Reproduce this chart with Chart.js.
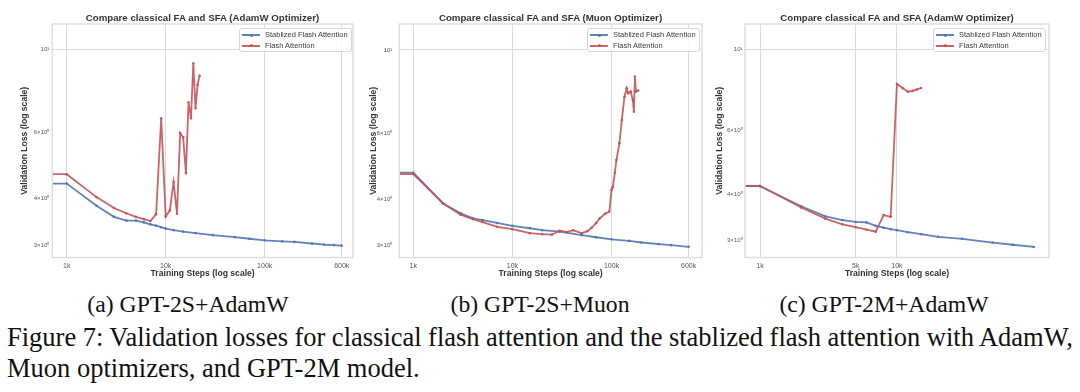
<!DOCTYPE html>
<html>
<head>
<meta charset="utf-8">
<script src="https://cdn.jsdelivr.net/npm/chart.js@4.4.1/dist/chart.umd.min.js"></script>
<style>
  html, body { margin: 0; padding: 0; background: #fff; }
  body { width: 1080px; height: 392px; position: relative; overflow: hidden; font-family: "Liberation Sans", Arial, sans-serif; }
  canvas { position: absolute; top: 0; }
  .ptitle { position: absolute; top: 12px; height: 12px; line-height: 12px; font-size: 9.7px; font-weight: bold; color: #333; text-align: center; white-space: nowrap; }
  .legend { position: absolute; top: 28px; width: 111px; height: 22px; border: 1px solid #d6d6d6; border-radius: 3px; background: rgba(255,255,255,0.85); font-size: 7.5px; color: #3a3a3a; }
  .legend .row { position: absolute; left: 0; height: 10px; line-height: 10px; white-space: nowrap; }
  .legend .sym { position: absolute; left: 2px; top: 4.3px; width: 18px; height: 1.7px; }
  .legend .dot { position: absolute; left: 7.5px; top: -0.8px; width: 3.2px; height: 3.2px; border-radius: 50%; }
  .legend .txt { position: absolute; left: 25px; top: 0; }
  .cap { position: absolute; font-family: "Liberation Serif", "Times New Roman", serif; color: #111; white-space: nowrap; }
  .sub { width: 300px; text-align: center; font-size: 23.7px; line-height: 23.7px; top: 292.5px; }
  .fig { left: 7px; font-size: 26.5px; line-height: 26.5px; }
</style>
</head>
<body>
<canvas id="chartA" width="357" height="282" style="left:0px"></canvas>
<canvas id="chartB" width="346" height="282" style="left:360px"></canvas>
<canvas id="chartC" width="348" height="282" style="left:705px"></canvas>

<div class="ptitle" style="left:52px;width:301px">Compare classical FA and SFA (AdamW Optimizer)</div>
<div class="ptitle" style="left:399px;width:303px">Compare classical FA and SFA (Muon Optimizer)</div>
<div class="ptitle" style="left:745px;width:304px">Compare classical FA and SFA (AdamW Optimizer)</div>

<div id="legendA" class="legend" style="left:239px"></div>
<div id="legendB" class="legend" style="left:587px"></div>
<div id="legendC" class="legend" style="left:933px"></div>

<div class="cap sub" style="left:38px">(a) GPT-2S+AdamW</div>
<div class="cap sub" style="left:390px">(b) GPT-2S+Muon</div>
<div class="cap sub" style="left:734px">(c) GPT-2M+AdamW</div>
<div id="figLine1" class="cap fig" style="top:323.5px">Figure 7: Validation losses for classical flash attention and the stablized flash attention with AdamW,</div>
<div class="cap fig" style="top:354.5px">Muon optimizers, and GPT-2M model.</div>

<script>
// Series names
const seriesNames = ["Stablized Flash Attention", "Flash Attention"];

// (a) GPT-2S + AdamW
const stepsA_sfa = [500, 1000, 2000, 3000, 4000, 5000, 6000, 7000, 8000, 9000, 10000, 12000, 15000, 20000, 30000, 50000, 70000, 100000, 150000, 200000, 300000, 400000, 500000, 600000];
const lossA_sfa  = [4.39, 4.39, 3.83, 3.58, 3.50, 3.50, 3.46, 3.42, 3.39, 3.36, 3.33, 3.30, 3.27, 3.24, 3.20, 3.16, 3.13, 3.10, 3.08, 3.07, 3.04, 3.02, 3.01, 3.00];
const stepsA_fa  = [500, 1000, 2000, 3000, 4000, 5000, 6000, 7000, 8000, 9000, 10000, 11000, 12000, 13000, 14000, 15000, 16000, 17000, 18000, 19000, 20000, 21000, 22000];
const lossA_fa   = [4.65, 4.65, 4.04, 3.78, 3.66, 3.58, 3.53, 3.49, 3.64, 6.55, 3.59, 3.72, 4.43, 3.65, 5.98, 5.83, 4.68, 7.23, 6.55, 9.18, 6.97, 8.04, 8.51];

// (b) GPT-2S + Muon
const stepsB_sfa = [500, 1000, 2000, 3000, 4000, 5000, 7000, 10000, 15000, 20000, 30000, 50000, 70000, 100000, 150000, 200000, 300000, 400000, 600000];
const lossB_sfa  = [4.70, 4.70, 3.89, 3.66, 3.55, 3.51, 3.45, 3.39, 3.34, 3.30, 3.27, 3.20, 3.16, 3.12, 3.09, 3.06, 3.03, 3.01, 2.98];
const stepsB_fa  = [500, 1000, 2000, 3000, 4000, 5000, 7000, 10000, 15000, 20000, 25000, 30000, 35000, 41000, 50000, 57000, 63000, 70000, 76000, 86000, 95000, 100000, 103000, 108000, 112000, 120000, 127000, 135000, 142000, 147000, 156000, 164000, 168000, 172000, 176000, 186000];
const lossB_fa   = [4.66, 4.66, 3.89, 3.63, 3.53, 3.47, 3.37, 3.32, 3.24, 3.22, 3.21, 3.29, 3.26, 3.30, 3.24, 3.28, 3.35, 3.45, 3.55, 3.65, 3.70, 4.23, 4.30, 4.70, 5.08, 5.63, 6.50, 7.50, 7.90, 7.66, 7.74, 7.35, 6.84, 8.49, 7.74, 7.79];

// (c) GPT-2M + AdamW
const stepsC_sfa = [500, 1000, 2000, 3000, 4000, 5000, 6000, 7000, 8000, 9000, 10000, 12000, 15000, 20000, 30000, 50000, 70000, 100000];
const lossC_sfa  = [4.21, 4.21, 3.71, 3.48, 3.40, 3.36, 3.35, 3.28, 3.24, 3.21, 3.19, 3.15, 3.11, 3.06, 3.02, 2.95, 2.91, 2.87];
const stepsC_fa  = [500, 1000, 2000, 3000, 4000, 5000, 6000, 7000, 8000, 9000, 10000, 11000, 12000, 13000, 14000, 15000];
const lossC_fa   = [4.22, 4.22, 3.68, 3.43, 3.31, 3.25, 3.20, 3.16, 3.51, 3.47, 8.02, 7.82, 7.64, 7.68, 7.75, 7.82];

// Tick values and labels
const xTicksAB = [1000, 10000, 100000, 600000];
const xLabelsAB = ["1k", "10k", "100k", "600k"];
const xTicksC = [1000, 5000, 10000];
const xLabelsC = ["1k", "5k", "10k"];
const yTicks = [3, 4, 6, 10];
const yLabels = ["3×10⁰", "4×10⁰", "6×10⁰", "10¹"];

const BLUE = "rgba(76,114,176,0.88)";
const RED = "rgba(196,78,82,0.88)";
const GRID = "#dadada";
const FONT = "'Liberation Sans', Arial, sans-serif";

const pairs = (xs, ys) => xs.map((x, i) => ({ x: x, y: ys[i] }));

// light grey box round the plot area
const framePlugin = {
  id: "frame",
  afterDraw(chart) {
    const { ctx, chartArea: a } = chart;
    ctx.save();
    ctx.strokeStyle = "#dcdcdc";
    ctx.lineWidth = 1.4;
    ctx.strokeRect(a.left, a.top, a.right - a.left, a.bottom - a.top);
    ctx.restore();
  }
};

function makeChart(id, o) {
  return new Chart(document.getElementById(id), {
    type: "line",
    data: {
      datasets: [
        { label: seriesNames[0], data: pairs(o.sfaSteps, o.sfaLoss), borderColor: BLUE, backgroundColor: BLUE, pointBackgroundColor: BLUE, order: 1 },
        { label: seriesNames[1], data: pairs(o.faSteps, o.faLoss), borderColor: RED, backgroundColor: RED, pointBackgroundColor: RED, order: 0 }
      ]
    },
    options: {
      responsive: false,
      animation: false,
      layout: { padding: { top: 24, right: 4, left: 0, bottom: 0 } },
      plugins: { legend: { display: false }, tooltip: { enabled: false } },
      elements: {
        line: { borderWidth: 1.8, tension: 0 },
        point: { radius: 1.3, borderWidth: 0 }
      },
      scales: {
        x: {
          type: "logarithmic",
          min: o.xMin, max: o.xMax,
          afterBuildTicks: s => { s.ticks = o.xTicks.map(v => ({ value: v })); },
          afterFit: s => { s.height = 24.5; },
          ticks: {
            autoSkip: false, maxRotation: 0, padding: 4, color: "#555",
            font: { family: FONT, size: 7 },
            callback: v => o.xLabels[o.xTicks.indexOf(v)]
          },
          grid: { color: GRID, lineWidth: 1, drawTicks: false },
          border: { display: false },
          title: {
            display: true, text: "Training Steps (log scale)", color: "#333",
            font: { family: FONT, size: 8.6, weight: "bold" },
            padding: { top: 0, bottom: 3.5 }
          }
        },
        y: {
          type: "logarithmic",
          min: o.yMin, max: o.yMax,
          afterBuildTicks: s => { s.ticks = yTicks.map(v => ({ value: v })); },
          afterFit: s => { s.width = o.yAxisW; },
          ticks: {
            padding: o.yPad, color: "#555",
            font: { family: FONT, size: 6 },
            callback: v => yLabels[yTicks.indexOf(v)]
          },
          grid: {
            lineWidth: 1, drawTicks: false,
            color: c => (c.tick && c.tick.value === 10 ? GRID : "rgba(0,0,0,0)")
          },
          border: { display: false },
          title: {
            display: true, text: "Validation Loss (log scale)", color: "#333",
            font: { family: FONT, size: 8.6, weight: "bold" },
            padding: { top: o.yTitlePad, bottom: 0 }
          }
        }
      }
    },
    plugins: [framePlugin]
  });
}

makeChart("chartA", {
  sfaSteps: stepsA_sfa, sfaLoss: lossA_sfa, faSteps: stepsA_fa, faLoss: lossA_fa,
  xMin: 715, xMax: 780000, yMin: 2.79, yMax: 11.68,
  xTicks: xTicksAB, xLabels: xLabelsAB, yAxisW: 52.3, yPad: 3, yTitlePad: 19.8
});
makeChart("chartB", {
  sfaSteps: stepsB_sfa, sfaLoss: lossB_sfa, faSteps: stepsB_fa, faLoss: lossB_fa,
  xMin: 722, xMax: 818000, yMin: 2.79, yMax: 11.73,
  xTicks: xTicksAB, xLabels: xLabelsAB, yAxisW: 39.3, yPad: 7, yTitlePad: 8.1
});
makeChart("chartC", {
  sfaSteps: stepsC_sfa, sfaLoss: lossC_sfa, faSteps: stepsC_fa, faLoss: lossC_fa,
  xMin: 777, xMax: 129000, yMin: 2.685, yMax: 11.71,
  xTicks: xTicksC, xLabels: xLabelsC, yAxisW: 40, yPad: 2.5, yTitlePad: 9.5
});

// legends (html)
function fillLegend(id) {
  const box = document.getElementById(id);
  [BLUE, RED].forEach((col, i) => {
    const row = document.createElement("div");
    row.className = "row";
    row.style.top = (1 + i * 10.6) + "px";
    row.innerHTML = '<span class="sym" style="background:' + col + '"><span class="dot" style="background:' + col + '"></span></span>' +
      '<span class="txt">' + seriesNames[i] + '</span>';
    box.appendChild(row);
  });
}
fillLegend("legendA");
fillLegend("legendB");
fillLegend("legendC");

// first caption line is justified to the full text width, like the paper
const line1 = document.getElementById("figLine1");
const gaps = line1.textContent.split(" ").length - 1;
line1.style.wordSpacing = ((1066 - line1.scrollWidth) / gaps) + "px";
</script>
</body>
</html>
